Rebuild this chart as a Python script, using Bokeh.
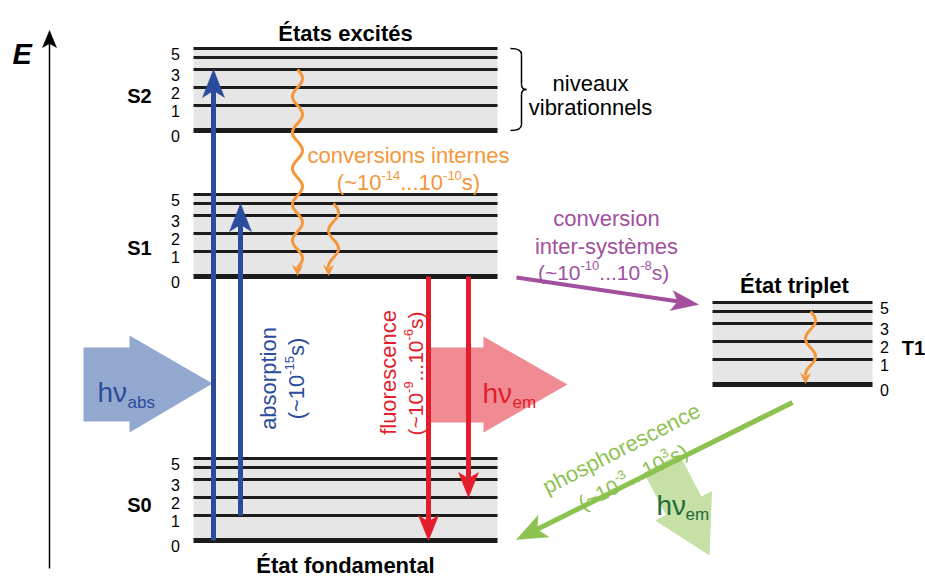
import math
import numpy as np
from bokeh.plotting import figure
from bokeh.models import Range1d, ColumnDataSource
from bokeh.embed import file_html
from bokeh.resources import INLINE
from bokeh.core.properties import value

# ---------------- data ----------------
states = ["S0", "S1", "S2", "T1"]
state_energy = [36, 300, 446, 192]          # energy of vibrational level 0
vib_levels = [0, 1, 2, 3, 4, 5]
vib_offset = [0, 25, 43, 61, 73, 82]        # vibrational level spacing
vib_labels = ["0", "1", "2", "3", "", "5"]

absorption = [("S0", 0, "S2", 3), ("S0", 1, "S1", 4)]
internal_conv = [("S2", 3, "S1", 0), ("S1", 4, "S1", 0), ("T1", 4, "T1", 0)]
fluorescence = [("S1", 0, "S0", 0), ("S1", 0, "S0", 2)]
intersystem = [("S1", 0, "T1", 5)]
phosphorescence = [("T1", 0, "S0", 0)]

# ---------------- layout / style ----------------
FONT = "Liberation Sans"
BLUE, BLUE_L = "#2b4c9c", "#93a8cf"
RED, PINK = "#e21d2c", "#f08b93"
ORANGE = "#f5963a"
PURPLE = "#a2509e"
GREEN, GREEN_L, GREEN_D = "#8cc24f", "#c6e0a6", "#1e6b3b"
GRAY = "#e6e6e6"
DARK = "#1c1c1c"

bar_x = {"S0": (193, 497), "S1": (193, 497), "S2": (193, 497), "T1": (712, 872)}
label_x = {"S0": 175, "S1": 175, "S2": 175, "T1": 884}
abs_x = [213, 240]
ic_x = [297, 333, 810]
fluo_x = [428, 468]

W, H = 925, 576


def Y(s):
    """screen-y (from top of page) to data y"""
    return 576 - s


def energy(st, v):
    return state_energy[states.index(st)] + vib_offset[v]


p = figure(width=W, height=H, x_range=Range1d(0, W), y_range=Range1d(0, H),
           output_backend="svg", toolbar_location=None,
           x_axis_location=None, y_axis_location=None, min_border=0)
p.outline_line_color = None
p.xgrid.visible = False
p.ygrid.visible = False


def head(tx, ty, fx, fy, L, Wd, notch):
    dx, dy = tx - fx, ty - fy
    n = math.hypot(dx, dy)
    dx, dy = dx / n, dy / n
    nx, ny = -dy, dx
    bx, by = tx - dx * L, ty - dy * L
    xs = [tx, bx + nx * Wd, tx - dx * (L - notch), bx - nx * Wd]
    ys = [ty, by + ny * Wd, ty - dy * (L - notch), by - ny * Wd]
    return xs, ys, (tx - dx * (L - notch - 1), ty - dy * (L - notch - 1))


def arrow(fx, fy, tx, ty, color, lw, L, Wd, notch):
    xs, ys, (ex, ey) = head(tx, ty, fx, fy, L, Wd, notch)
    p.segment(x0=[fx], y0=[fy], x1=[ex], y1=[ey], line_color=color, line_width=lw)
    p.patch(xs, ys, fill_color=color, line_color=color, line_width=0.5)


def wavy(x0, ytop, ytip, color, amp=5, period=36):
    L = 10
    yend = ytip + L - 2
    ys = np.linspace(ytop, yend, 200)
    xs = x0 + amp * np.sin(2 * np.pi * (ytop - ys) / period)
    p.line(xs, ys, line_color=color, line_width=3)
    xe = xs[-1]
    hx, hy, _ = head(xe, ytip, xe, ytop, L, 5, 3)
    p.patch(hx, hy, fill_color=color, line_color=color, line_width=0.5)


AW = {"0": .556, "1": .556, "2": .556, "3": .556, "4": .556, "5": .556, "6": .556,
      "7": .556, "8": .556, "9": .556, "(": .333, ")": .333, "~": .584, ".": .278,
      "s": .5, "-": .333, " ": .278}


def rich(parts, cx, cy, angle, color, fs=22, sfs=13, rise=7):
    widths = [sum(AW[c] for c in t) * (sfs if sup else fs) for t, sup in parts]
    total = sum(widths)
    c, s = math.cos(angle), math.sin(angle)
    ux, uy = -s, c
    adv = -total / 2
    xs, ys, tx, sz = [], [], [], []
    for (t, sup), w in zip(parts, widths):
        r = rise if sup else 0
        xs.append(cx + c * adv + ux * r)
        ys.append(cy + s * adv + uy * r)
        tx.append(t)
        sz.append(f"{sfs if sup else fs}px")
        adv += w
    src = ColumnDataSource(dict(x=xs, y=ys, t=tx, sz=sz))
    p.text(x="x", y="y", text="t", source=src, angle=angle, text_font_size="sz",
           text_font=value(FONT), text_color=color, text_align="left",
           text_baseline="alphabetic")


def txt(x, y, t, color="black", size=22, style="normal", align="center", angle=0):
    p.text(x=[x], y=[y], text=[t], text_font=value(FONT), text_font_size=f"{size}px",
           text_font_style=style, text_color=color, text_align=align,
           text_baseline="alphabetic", angle=angle)


# ---------------- energy levels ----------------
for st in states:
    x0, x1 = bar_x[st]
    p.quad(left=[x0], right=[x1], bottom=[energy(st, 0)], top=[energy(st, 5)],
           fill_color=GRAY, line_color=None)
    for v, lab in zip(vib_levels, vib_labels):
        e = energy(st, v)
        p.segment(x0=[x0], y0=[e], x1=[x1], y1=[e], line_color=DARK,
                  line_width=5 if v == 0 else 3)
        if lab:
            txt(label_x[st], e - 5.6, lab, size=16)

# ---------------- photon arrows (light) ----------------
# absorbed photon
tipx, tipy = abs_x[0] - 1, Y(383)
p.patch([83, 129, 129, tipx, 129, 129, 83],
        [tipy + 36, tipy + 36, tipy + 48, tipy, tipy - 49, tipy - 38, tipy - 38],
        fill_color=BLUE_L, line_color=None)
# emitted fluorescence photon
tipx, tipy = 567, Y(384)
p.patch([fluo_x[0], 483, 483, tipx, 483, 483, fluo_x[0]],
        [tipy + 37, tipy + 37, tipy + 48, tipy, tipy - 48, tipy - 38, tipy - 38],
        fill_color=PINK, line_color=None)
# emitted phosphorescence photon
T = np.array([709.0, Y(555)])
d = np.array([0.461, -0.887])
nrm = np.array([0.887, 0.461])
M = T - 56 * d
S = M - 48 * d
poly = [S - 20 * nrm, M - 20 * nrm, M - 32 * nrm, T, M + 32 * nrm, M + 20 * nrm, S + 20 * nrm]
p.patch([q[0] for q in poly], [q[1] for q in poly], fill_color=GREEN_L, line_color=None)

# ---------------- transitions ----------------
for (fs_, fv, ts, tv), x in zip(absorption, abs_x):
    arrow(x, energy(fs_, fv), x, energy(ts, tv), BLUE, 5, 28, 11, 7)

for (fs_, fv, ts, tv), x in zip(internal_conv, ic_x):
    wavy(x, energy(fs_, fv), energy(ts, tv) + 1, ORANGE)

for (fs_, fv, ts, tv), x in zip(fluorescence, fluo_x):
    arrow(x, energy(fs_, fv), x, energy(ts, tv), RED, 5, 25, 10, 6)

for fs_, fv, ts, tv in intersystem:
    arrow(516, energy(fs_, fv) - 1, 698, energy(ts, tv) - 2, PURPLE, 4, 27, 10, 6)

for fs_, fv, ts, tv in phosphorescence:
    arrow(792, energy(fs_, fv) - 18, 516, energy(ts, tv) + 1, GREEN, 5, 30, 12, 7)

# energy axis
arrow(49, Y(568), 49, Y(30), "black", 1.5, 17, 7, 4)
txt(12, Y(53), "E", size=29, style="bold italic", align="left")

# brace
bx0, bxv, bxt = 510, 521, 526
p.bezier(x0=[bx0, bxv, bxt, bxv], y0=[Y(48), Y(84), Y(89), Y(124)],
         x1=[bxv, bxt, bxv, bx0], y1=[Y(54), Y(89), Y(94), Y(130)],
         cx0=[bx0 + 8, bxv, bxt - 3, bxv], cy0=[Y(48), Y(88), Y(89), Y(128)],
         cx1=[bxv, bxt - 3, bxv, bx0 + 8], cy1=[Y(50), Y(89), Y(90), Y(130)],
         line_color="black", line_width=1.5)
p.segment(x0=[bxv, bxv], y0=[Y(54), Y(94)], x1=[bxv, bxv], y1=[Y(84), Y(124)],
          line_color="black", line_width=1.5)

# ---------------- texts ----------------
txt(345, Y(33), "États excités", size=22, style="bold")
txt(345, Y(565), "État fondamental", size=22, style="bold")
txt(794, Y(285), "État triplet", size=22, style="bold")
txt(139, Y(95), "S2", size=20, style="bold")
txt(139, Y(247), "S1", size=20, style="bold")
txt(139, Y(504), "S0", size=20, style="bold")
txt(913, Y(347), "T1", size=20, style="bold")

txt(590, Y(83), "niveaux")
txt(590, Y(107), "vibrationnels")

txt(408, Y(155), "conversions internes", color=ORANGE)
rich([("(~10", False), ("-14", True), ("...10", False), ("-10", True), ("s)", False)],
     408, Y(182), 0, ORANGE)

txt(606, Y(218), "conversion", color=PURPLE)
txt(606, Y(246), "inter-systèmes", color=PURPLE)
rich([("(~10", False), ("-10", True), ("...10", False), ("-8", True), (" s)", False)],
     606, Y(272), 0, PURPLE, fs=21)

txt(268, Y(378), "absorption", color=BLUE, angle=math.pi / 2)
rich([("(~10", False), ("-15", True), ("s)", False)], 296, Y(378), math.pi / 2, BLUE)

txt(388, Y(372), "fluorescence", color=RED, angle=math.pi / 2)
rich([("(~10", False), ("-9", True), ("...10", False), ("-6", True), ("s)", False)],
     415, Y(373), math.pi / 2, RED, fs=21)

ang = math.radians(27)
txt(621, Y(448), "phosphorescence", color=GREEN, angle=ang)
rich([("(~10", False), ("-3", True), ("...10", False), ("3", True), (" s)", False)],
     635, Y(475), ang, GREEN, fs=21)

txt(97, Y(392), "hν", color=BLUE, size=28, align="left")
txt(127, Y(402), "abs", color=BLUE, size=17, align="left")
txt(482, Y(393), "hν", color=RED, size=28, align="left")
txt(512, Y(402), "em", color=RED, size=17, align="left")
txt(656, Y(505), "hν", color=GREEN_D, size=28, align="left")
txt(685, Y(514), "em", color=GREEN_D, size=17, align="left")

open("out.html", "w").write(file_html(p, INLINE))
